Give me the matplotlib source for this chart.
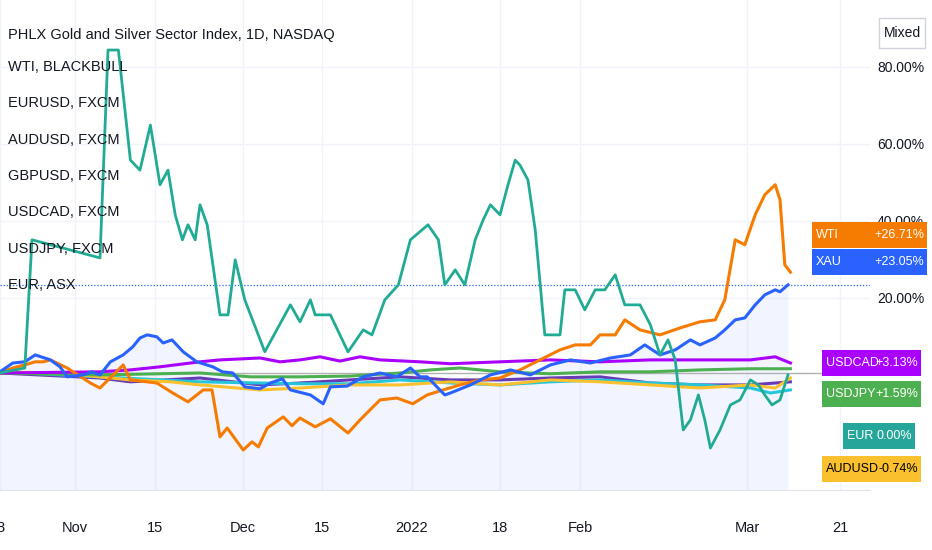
import numpy as np
import matplotlib.pyplot as plt
from matplotlib.patches import Rectangle

plt.rcParams['font.family'] = ['Liberation Sans', 'DejaVu Sans']

# trading-day index, percent change
eur_x = [0, 3.1, 4, 12.5, 13.5, 14.8, 16.3, 17.5, 18.8, 20, 21, 21.9, 22.8, 23.5, 24.4, 25, 25.9, 27.5, 28.5, 29.4, 30.6, 33.1, 36.3, 37.5, 38.8, 39.4, 41.3, 43.5, 45.4, 46.5, 48.1, 49.8, 51.3, 53.5, 54.8, 55.6, 56.9, 58.1, 59.4, 60.4, 61.3, 62.5, 63.5, 64.4, 65, 66, 66.9, 68.1, 70, 70.6, 71.9, 73.1, 74.4, 75.6, 76.9, 78.1, 80, 81.3, 82.5, 83.5, 84.4, 85.4, 86.3, 87.3, 88.1, 88.8, 90, 91.3, 92.5, 93.8, 94.8, 95.6, 96.5, 97.5, 98.5]
eur_y = [0.5, 1.8, 35.1, 30.4, 84.4, 84.4, 55.8, 53.2, 64.9, 49.4, 53.2, 41.6, 35.1, 39.0, 35.1, 44.2, 39.0, 15.6, 15.6, 29.9, 19.5, 6.0, 18.2, 13.8, 19.5, 15.6, 15.6, 6.0, 11.7, 10.4, 19.5, 23.4, 35.1, 39.0, 35.1, 23.4, 27.3, 23.4, 35.1, 40.3, 44.2, 41.6, 49.4, 55.8, 54.5, 50.6, 37.7, 10.4, 10.4, 22.1, 22.1, 16.9, 22.1, 22.1, 26.0, 18.2, 18.2, 13.0, 5.2, 9.1, 3.9, -14.3, -11.7, -5.2, -11.7, -19.0, -14.3, -7.8, -6.5, -1.3, -2.6, -5.2, -7.8, -6.5, 0.0]

wti_x = [0, 1.6, 3.1, 4.4, 5.4, 6.3, 8.4, 11.3, 12.5, 15.4, 16.3, 19.6, 21.6, 23.5, 25.4, 26.5, 27.5, 28.4, 30.4, 31.5, 32.3, 33.4, 35.4, 36.5, 37.5, 39.4, 41.3, 43.5, 45, 47.5, 49.6, 51.6, 53.4, 55.4, 57.5, 60, 62.5, 65, 67.5, 70, 71.9, 73.8, 75, 76.9, 78.1, 80, 82.5, 85, 87.5, 89.4, 90.6, 91.9, 93.1, 94.4, 95.6, 96.9, 97.5, 98.1, 98.8]
wti_y = [0.5, 1.8, 2.6, 3.4, 3.4, 3.9, 1.8, -2.1, -3.4, 2.6, -1.3, -2.1, -4.7, -7.0, -3.9, -3.9, -16.1, -13.8, -19.5, -17.4, -18.7, -13.8, -10.9, -13.2, -11.2, -13.5, -11.4, -15.1, -11.7, -6.5, -6.0, -7.5, -5.2, -3.9, -2.6, -1.3, -0.8, 1.3, 3.9, 6.5, 7.8, 7.8, 10.4, 10.4, 14.3, 11.7, 10.4, 12.2, 13.8, 14.3, 19.5, 35.1, 33.8, 41.6, 46.8, 49.4, 45.5, 28.6, 26.7]

xau_x = [0, 1.6, 3.1, 4.4, 6.3, 7.5, 8.4, 10.4, 11.5, 12.5, 13.8, 15.4, 16.6, 17.5, 18.4, 19.6, 20.4, 21.5, 22.9, 24.6, 26.6, 27.8, 29.1, 30.6, 32.5, 33.8, 35.3, 36.3, 38.8, 40.4, 41.3, 43.4, 45.4, 47.5, 49.6, 51.3, 52.5, 53.4, 55.6, 56.3, 58.8, 61.3, 63.8, 66.3, 68.8, 71.3, 73.8, 76.3, 78.8, 80.6, 82.5, 84.4, 86.3, 87.5, 89.4, 90.6, 91.9, 93.1, 94.4, 95.6, 96.9, 97.5, 98.5]
xau_y = [0.8, 3.1, 3.4, 5.2, 3.9, 2.1, -0.5, 0, 0.8, 0, 3.4, 5.2, 7.3, 9.6, 10.4, 9.9, 8.3, 9.1, 6.0, 3.4, 2.1, 0.8, 0.5, -3.1, -3.6, -2.1, -1.0, -3.9, -5.2, -7.5, -3.1, -2.9, -0.5, 0.5, -0.5, 1.8, -0.5, -0.5, -5.2, -4.7, -2.6, 0, 1.3, 0, 2.6, 3.9, 3.1, 4.4, 5.2, 7.8, 5.2, 6.5, 9.1, 7.8, 9.6, 11.7, 14.3, 14.8, 18.2, 20.8, 22.1, 21.6, 23.4]

cad_x = [0, 12.5, 16.3, 20, 25, 27.5, 32.5, 35, 37.5, 40, 42.5, 45, 47.5, 52.5, 56.3, 62.5, 68.8, 75, 81.3, 87.5, 93.8, 96.9, 98.8]
cad_y = [0.5, 0.8, 1.3, 2.1, 3.4, 3.9, 4.4, 3.4, 3.9, 4.7, 3.6, 4.7, 3.9, 3.4, 2.9, 3.4, 3.9, 3.4, 3.9, 3.9, 3.9, 4.7, 3.1]

jpy_x = [0, 12.5, 25, 31.3, 37.5, 43.8, 50, 53.8, 57.5, 62.5, 68.8, 75, 81.3, 87.5, 93.8, 98.8]
jpy_y = [0.5, 0, 0.5, -0.5, -0.5, -0.3, 0.5, 1.3, 1.8, 0.8, 0.3, 0.8, 0.8, 1.3, 1.6, 1.6]

aud_x = [0, 7.5, 16.3, 21.3, 25, 32.5, 37.5, 43.8, 50, 56.3, 62.5, 68.8, 75, 81.3, 87.5, 93.8, 96.9, 98.8]
aud_y = [0.8, 0.5, -1.3, -1.8, -2.6, -3.9, -3.4, -2.6, -2.6, -1.8, -2.6, -1.3, -1.8, -2.6, -3.4, -2.6, -3.4, -0.8]

gbp_x = [0, 12.5, 25, 32.5, 37.5, 43.8, 50, 56.3, 62.5, 68.8, 75, 81.3, 87.5, 93.8, 96.3, 98.8]
gbp_y = [0.8, -0.5, -1.8, -2.1, -2.3, -2.3, -1.3, -2.1, -2.6, -1.8, -1.3, -2.1, -2.6, -3.4, -4.7, -3.9]

eurusd_x = [0, 12.5, 16.3, 25, 32.5, 37.5, 50, 56.3, 62.5, 68.8, 75, 81.3, 87.5, 93.8, 98.8]
eurusd_y = [0.5, -0.8, -1.8, -0.8, -2.6, -2.1, -0.5, -1.3, -1.3, -0.8, -0.5, -2.1, -2.6, -2.6, -1.8]

tick_pos = [0, 9.4, 19.4, 30.4, 40.3, 51.5, 62.5, 72.5, 93.4, 105]
tick_lab = ['8', 'Nov', '15', 'Dec', '15', '2022', '18', 'Feb', 'Mar', '21']

legend_lines = ['WTI, BLACKBULL', 'EURUSD, FXCM', 'AUDUSD, FXCM', 'GBPUSD, FXCM',
                'USDCAD, FXCM', 'USDJPY, FXCM', 'EUR, ASX']

fig = plt.figure(figsize=(9.32, 5.5), dpi=100)
ax = fig.add_axes([0, 60/550, 870/932, 490/550])
ax.set_xlim(0, 108.75)
ax.set_ylim(-29.9, 97.4)

ax.fill_between(xau_x, xau_y, -29.9, color='#2962ff', alpha=0.06, lw=0)
ax.axhline(0.5, color='#b0b0b0', lw=1)
ax.axhline(xau_y[-1], color='#2962ff', lw=0.9, ls=(0, (1, 1.5)))

ax.plot(eurusd_x, eurusd_y, color='#673ab7', lw=2.2)
ax.plot(gbp_x, gbp_y, color='#26c6da', lw=2.2)
ax.plot(aud_x, aud_y, color='#fbc02d', lw=2.2)
ax.plot(jpy_x, jpy_y, color='#4caf50', lw=2.2)
ax.plot(cad_x, cad_y, color='#aa00ff', lw=2.2)
ax.plot(wti_x, wti_y, color='#f57c00', lw=2.2)
ax.plot(xau_x, xau_y, color='#2962ff', lw=2.2)
ax.plot(eur_x, eur_y, color='#22ab94', lw=2)

ax.set_xticks(tick_pos)
ax.set_xticklabels(tick_lab, fontsize=10.5, color='#131722')
ax.set_yticks([20, 40, 60, 80])
ax.set_yticklabels(['20.00%', '40.00%', '60.00%', '80.00%'], fontsize=10, color='#131722')
ax.yaxis.tick_right()
ax.tick_params(length=0, pad=5)
ax.tick_params(axis='x', pad=22)
ax.grid(color='#f0f3fa', lw=1)
for s in ['top', 'left', 'right']:
    ax.spines[s].set_visible(False)
ax.spines['bottom'].set_color('#e0e3eb')
ax.set_axisbelow(True)

fig.text(8/932, 1 - 35/550, 'PHLX Gold and Silver Sector Index, 1D, NASDAQ',
         fontsize=10.5, color='#131722', va='center')
for i, t in enumerate(legend_lines):
    fig.text(8/932, 1 - (67 + i * 36.3)/550, t, fontsize=10.5, color='#131722', va='center')

fig.patches.append(Rectangle((879/932, 1 - 48/550), 46/932, 30/550, transform=fig.transFigure,
                             facecolor='white', edgecolor='#d1d4dc', lw=1))
fig.text(902/932, 1 - 33/550, 'Mixed', fontsize=10, ha='center', va='center', color='#131722')

boxes = [('WTI', '+26.71%', '#f57c00', 'white', 812, 927, 235),
         ('XAU', '+23.05%', '#2962ff', 'white', 812, 927, 262),
         ('USDCAD', '+3.13%', '#aa00ff', 'white', 822, 921, 363),
         ('USDJPY', '+1.59%', '#4caf50', 'white', 822, 921, 394),
         ('EUR', '0.00%', '#26a69a', 'white', 843, 915, 436),
         ('AUDUSD', '-0.74%', '#fbc02d', 'black', 822, 921, 469)]
for name, val, col, tc, x0, x1, yc in boxes:
    fig.patches.append(Rectangle((x0/932, 1 - (yc + 13)/550), (x1 - x0)/932, 26/550,
                                 transform=fig.transFigure, facecolor=col, edgecolor='none'))
    fig.text((x0 + 4)/932, 1 - yc/550, name, fontsize=9, color=tc, va='center')
    fig.text((x1 - 3)/932, 1 - yc/550, val, fontsize=9, color=tc, va='center', ha='right')

fig.savefig('out.png', dpi=100)
